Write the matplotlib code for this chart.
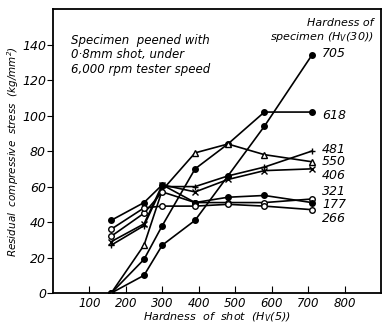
import numpy as np
import matplotlib
matplotlib.use('Agg')
import matplotlib.pyplot as plt

# hardness of shot (Hv(5))
shot = [160, 250, 300, 390, 480, 580, 710]

# residual compressive stress (kg/mm2) per specimen hardness
s705 = [0, 10, 27, 41, 66, 94, 134]
s618 = [0, 19, 38, 70, 84, 102, 102]
s550 = [0, 27, 58, 79, 84, 78, 74]
s481 = [27, 38, 60, 60, 66, 71, 80]
s406 = [29, 39, 61, 57, 64, 69, 70]
s321 = [32, 45, 57, 51, 51, 51, 53]
s177 = [41, 51, 61, 51, 54, 55, 51]
s266 = [36, 48, 49, 49, 50, 49, 47]

labels = ['705', '618', '481', '550', '406', '321', '177', '266']
label_y = [135, 100, 81, 74, 66, 57, 50, 42]

plt.rcParams['font.family'] = 'DejaVu Sans'
plt.rcParams['font.style'] = 'italic'

fig = plt.figure(figsize=(3.83, 3.26), dpi=100)
ax = fig.add_axes([0.138, 0.101, 0.857, 0.871])

kw = dict(color='k', lw=1.2, ms=4)
ax.plot(shot, s705, marker='o', **kw)
ax.plot(shot, s618, marker='o', **kw)
ax.plot(shot, s550, marker='^', mfc='white', **kw)
ax.plot(shot, s481, marker='+', mew=1, **kw)
ax.plot(shot, s406, marker='x', mew=1, **kw)
ax.plot(shot, s321, marker='o', mfc='white', **kw)
ax.plot(shot, s177, marker='o', **kw)
ax.plot(shot, s266, marker='o', mfc='white', **kw)

for lab, yy in zip(labels, label_y):
    ax.text(738, yy, lab, fontsize=9, va='center', ha='left')

ax.text(50, 146, 'Specimen  peened with\n0·8mm shot, under\n6,000 rpm tester speed',
        fontsize=8.5, va='top', ha='left', linespacing=1.15)
ax.text(880, 155, 'Hardness of\nspecimen (H$_V$(30))', fontsize=8,
        va='top', ha='right', linespacing=1.15)

ax.set_xlim(0, 900)
ax.set_ylim(0, 160)
ax.set_xticks(range(100, 900, 100))
ax.set_yticks(range(0, 160, 20))
ax.tick_params(axis='x', direction='in', length=5, labelsize=8.5, pad=3)
ax.tick_params(axis='y', direction='out', length=4, labelsize=9, pad=1)
ax.set_xlabel('Hardness  of  shot  (H$_V$(5))', fontsize=8, labelpad=0)
ax.set_ylabel('Residual  compressive  stress  (kg/mm$^2$)', fontsize=7.5, labelpad=1)
for sp in ax.spines.values():
    sp.set_linewidth(1.3)

fig.savefig('out.png', dpi=100)
